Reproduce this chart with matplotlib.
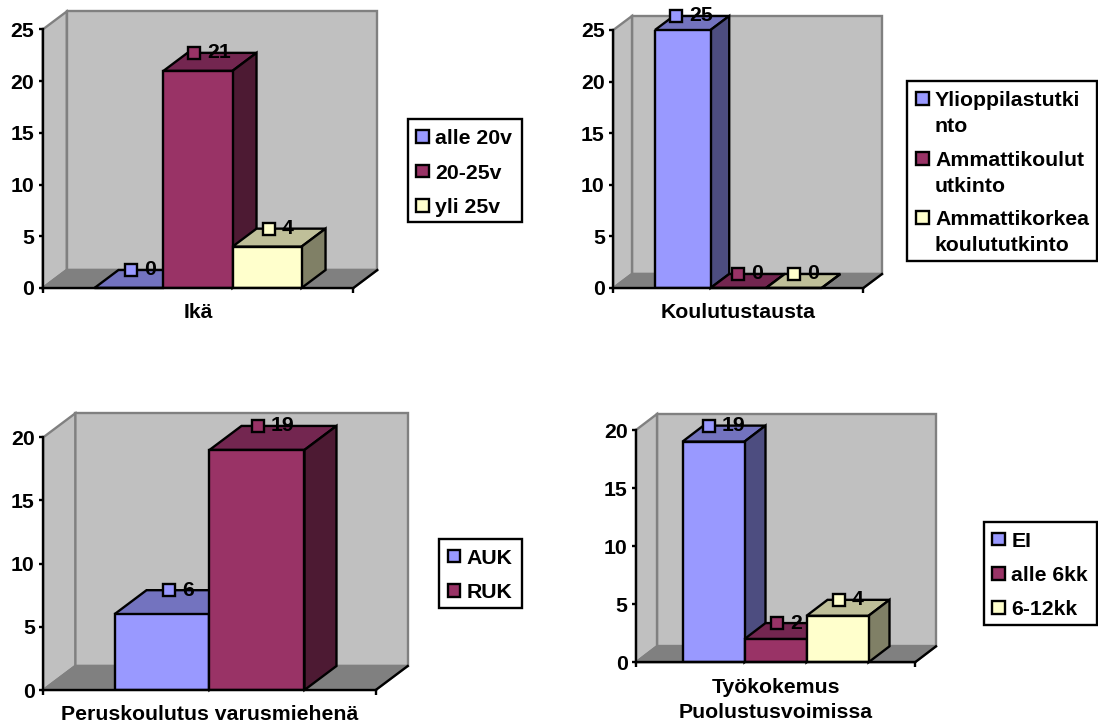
import matplotlib
matplotlib.use('Agg')
import matplotlib.pyplot as plt
from matplotlib.patches import Rectangle
from matplotlib.transforms import Affine2D

plt.rcParams['font.family'] = ['Liberation Sans', 'DejaVu Sans']
plt.rcParams['font.weight'] = 'bold'
plt.rcParams['font.size'] = 15.3

W, H = 1098, 723

# chart data
age_labels = ['alle 20v', '20-25v', 'yli 25v']
age_values = [0, 21, 4]
school_labels = ['Ylioppilastutki\nnto', 'Ammattikoulut\nutkinto', 'Ammattikorkea\nkoulututkinto']
school_values = [25, 0, 0]
training_labels = ['AUK', 'RUK']
training_values = [6, 19]
work_labels = ['EI', 'alle 6kk', '6-12kk']
work_values = [19, 2, 4]

front_colors = ['#9999FF', '#993366', '#FFFFCC']
top_colors = ['#7373BF', '#732650', '#BFBF99']
side_colors = ['#4D4D80', '#4D1A33', '#808066']
wall_color = '#C0C0C0'
floor_color = '#808080'
edge_lw = 1.7

fig = plt.figure(figsize=(W / 100, H / 100), dpi=100, facecolor='white')
# pixel transform for the legends, origin top left
px = Affine2D().scale(1 / W, -1 / H).translate(0, 1) + fig.transFigure


def draw_chart(values, title, ymax, box, depth, marker_shift, pad):
    left, right, ytop, y0 = box
    ax = fig.add_axes([left / W, 1 - y0 / H, (right - left) / W, (y0 - ytop) / H])
    ax.patch.set_visible(False)
    n = len(values)
    ax.set_xlim(-0.75, n + 0.75)
    ax.set_ylim(0, ymax)
    # depth of the box in data units
    dx = depth[0] * (n + 1.5) / (right - left)
    dy = depth[1] * ymax / (y0 - ytop)
    x0, x1 = ax.get_xlim()

    # walls and floor
    ax.fill([x0 + dx, x1 + dx, x1 + dx, x0 + dx], [dy, dy, ymax + dy, ymax + dy],
            fc=wall_color, ec=floor_color, lw=edge_lw, clip_on=False, zorder=1)
    ax.fill([x0, x0 + dx, x0 + dx, x0], [0, dy, ymax + dy, ymax],
            fc=wall_color, ec=floor_color, lw=edge_lw, clip_on=False, zorder=1)
    ax.fill([x0, x1, x1 + dx, x0 + dx], [0, 0, dy, dy],
            fc=floor_color, ec=floor_color, lw=edge_lw, clip_on=False, zorder=1)
    ax.plot([x1, x1 + dx], [0, dy], color='black', lw=edge_lw, clip_on=False, zorder=1.5)

    # bars, left to right so the next one covers the side of the previous
    for i, v in enumerate(values):
        z = 2 + i * 0.1
        ax.fill([i, i + 1, i + 1 + dx, i + dx], [v, v, v + dy, v + dy],
                fc=top_colors[i], ec='black', lw=edge_lw, clip_on=False, zorder=z)
        ax.fill([i + 1, i + 1 + dx, i + 1 + dx, i + 1], [0, dy, v + dy, v],
                fc=side_colors[i], ec='black', lw=edge_lw, clip_on=False, zorder=z)
        ax.bar(i + 0.5, v, width=1, color=front_colors[i], edgecolor='black',
               linewidth=edge_lw, zorder=z + 0.01)

    # data labels with the little series marker
    for i, v in enumerate(values):
        mx = i + 0.5 + marker_shift[i] * (n + 1.5) / (right - left)
        ax.plot([mx], [v + dy], marker='s', ms=8.4, mew=edge_lw, mfc=front_colors[i],
                mec='black', clip_on=False, zorder=5)
        ax.annotate(str(v), (mx, v + dy), xytext=(9.4, 0), textcoords='offset points',
                    va='center', ha='left', zorder=4.5, annotation_clip=False)

    for s in ['top', 'right']:
        ax.spines[s].set_visible(False)
    for s in ['left', 'bottom']:
        ax.spines[s].set_linewidth(edge_lw)
        ax.spines[s].set_zorder(4)
    ax.set_yticks(range(0, ymax + 1, 5))
    ax.set_xticks([x0, x1])
    ax.set_xticklabels([])
    ax.tick_params(axis='y', length=3.2, width=edge_lw, pad=2.9)
    ax.tick_params(axis='x', length=3.6, width=edge_lw)
    ax.set_xlabel(title, fontweight='bold', labelpad=pad, linespacing=1.4)
    return ax


def draw_legend(labels, box, marker_x, text_x, rows, line_gap=26):
    x0, x1, y0, y1 = box
    fig.add_artist(Rectangle((x0, y0), x1 - x0, y1 - y0, transform=px, fc='white',
                             ec='black', lw=edge_lw))
    for i, (label, y) in enumerate(zip(labels, rows)):
        fig.add_artist(Rectangle((marker_x - 6.25, y - 6.25), 12.5, 12.5, transform=px,
                                 fc=front_colors[i], ec='black', lw=edge_lw))
        for k, line in enumerate(label.split('\n')):
            fig.text(text_x, y + 7.7 + k * line_gap, line, transform=px, ha='left', va='baseline')


draw_chart(age_values, 'Ikä', 25, (42.7, 353.3, 29.5, 288), (24, 18), [2, -3.7, 2], 4)
draw_legend(age_labels, (407.7, 521.7, 119, 222.3), 422.7, 435, [136.7, 171, 205.3])

draw_chart(school_values, 'Koulutustausta', 25, (613.3, 863.3, 30, 288), (18.7, 14), [-6.5, 0, 0], 4)
draw_legend(school_labels, (907.3, 1097, 81, 260.7), 922.3, 935, [98.3, 158.3, 217.7])

draw_chart(training_values, 'Peruskoulutus varusmiehenä', 20, (43.3, 375.7, 437.3, 690), (32, 24), [7, 1], 4)
draw_legend(training_labels, (439, 521.7, 539, 608), 454, 466.7, [556, 590.3])

draw_chart(work_values, 'Työkokemus\nPuolustusvoimissa', 20, (636, 915, 430, 662.3), (21, 16), [-4.5, 1.3, 1.5], 4)
draw_legend(work_labels, (984, 1097.3, 521.7, 624.7), 998.7, 1011.3, [539, 573.3, 607.7])

fig.savefig('out.png', dpi=100)
